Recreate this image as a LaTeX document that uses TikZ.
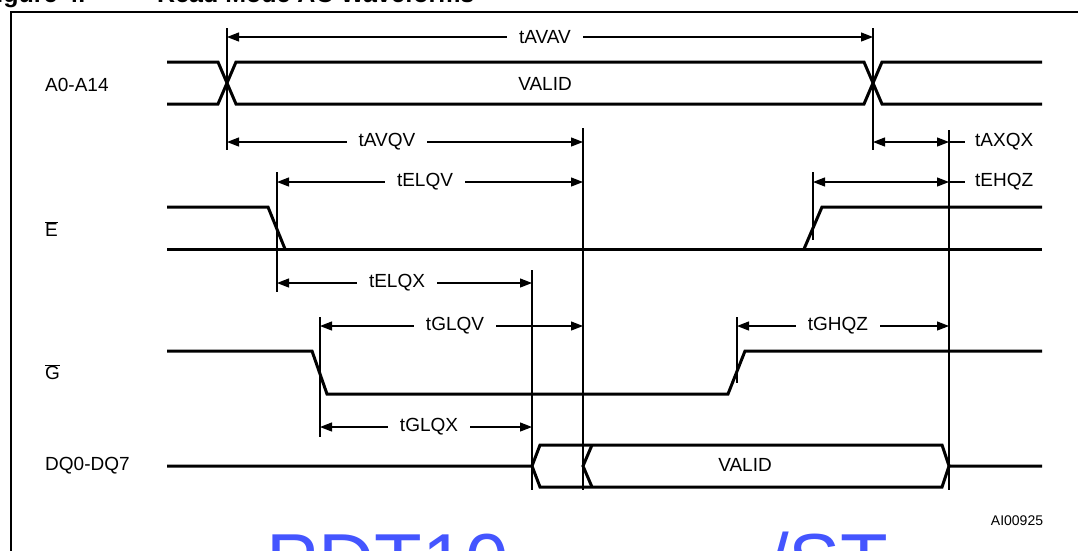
\documentclass[tikz,border=0pt]{standalone}
\usepackage{fontspec}
\setmainfont{Liberation Sans}
\usetikzlibrary{arrows.meta}
\definecolor{wmblue}{RGB}{68,85,255}
\begin{document}
\begin{tikzpicture}[x=1pt,y=-1pt,
  sig/.style={line width=3pt},
  refline/.style={line width=1.2pt},
  dim/.style={line width=1.2pt,{Triangle[length=12pt,width=9pt]}-{Triangle[length=12pt,width=9pt]}},
  lbl/.style={fill=white,inner xsep=12pt,inner ysep=1pt,font=\fontsize{19}{22}\selectfont},
  rlbl/.style={anchor=west,inner sep=0pt,font=\fontsize{19}{22}\selectfont},
  sname/.style={anchor=west,inner sep=0pt,font=\fontsize{19}{22}\selectfont}]
\useasboundingbox (0,0) rectangle (1078,550);
% frame and title
\draw[line width=2pt] (11,570) -- (11,11.5) -- (1100,11.5);
\node[anchor=base west,inner sep=0pt,font=\bfseries\fontsize{25}{30}\selectfont] (fig) at (-19,2) {Figure 4.};
\node[anchor=base west,inner sep=0pt,font=\bfseries\fontsize{25}{30}\selectfont] (title) at (157,2) {Read Mode AC Waveforms};
% signal names
\node[sname] (nA) at (45,85) {A0-A14};
\node[sname] (nE) at (45,229) {$\overline{\hbox{E}}$};
\node[sname] (nG) at (45,372) {$\overline{\hbox{G}}$};
\node[sname] (nDQ) at (45,466) {DQ0-DQ7};
% time references
\coordinate (tA1) at (227,0);
\coordinate (tA2) at (873,0);
\coordinate (tQV) at (583,0);
\coordinate (tQZ) at (949,0);
\coordinate (tE1) at (277,0);
\coordinate (tE2) at (813,0);
\coordinate (tQX) at (532,0);
\coordinate (tG1) at (320,0);
\coordinate (tG2) at (737,0);
% waveforms
\draw[sig] (167,62) -- (218,62) -- (236,104) -- (864,104) -- (882,62) -- (1042,62);
\draw[sig] (167,104) -- (218,104) -- (236,62) -- (864,62) -- (882,104) -- (1042,104);
\node[font=\fontsize{19}{22}\selectfont] (vA) at (545,84) {VALID};
\draw[sig] (167,207) -- (268,207) -- (285,249);
\draw[sig] (167,249) -- (1042,249);
\draw[sig] (804,249) -- (822,207) -- (1042,207);
\draw[sig] (167,351) -- (312,351) -- (327,394) -- (728,394) -- (745,351) -- (1042,351);
\draw[sig] (167,466) -- (532,466) -- (540,445) -- (942,445) -- (949,466) -- (1042,466);
\draw[sig] (532,466) -- (540,487) -- (942,487) -- (949,466);
\draw[sig] (592,445) -- (583,466) -- (592,487);
\node[font=\fontsize{19}{22}\selectfont] (vDQ) at (745,465) {VALID};
% vertical reference lines
\draw[refline] (tA1 |- 0,28) -- (tA1 |- 0,150);
\draw[refline] (tA2 |- 0,28) -- (tA2 |- 0,150);
\draw[refline] (tQV |- 0,128) -- (tQV |- 0,490);
\draw[refline] (tQZ |- 0,130) -- (tQZ |- 0,490);
\draw[refline] (tE1 |- 0,172) -- (tE1 |- 0,292);
\draw[refline] (tE2 |- 0,172) -- (tE2 |- 0,240);
\draw[refline] (tQX |- 0,270) -- (tQX |- 0,490);
\draw[refline] (tG1 |- 0,317) -- (tG1 |- 0,437);
\draw[refline] (tG2 |- 0,317) -- (tG2 |- 0,383);
% dimension arrows
\draw[dim] (tA1 |- 0,37) -- (tA2 |- 0,37);
\node[lbl] (lAVAV) at (545,37) {tAVAV};
\draw[dim] (tA1 |- 0,142) -- (tQV |- 0,142);
\node[lbl] (lAVQV) at (387,142) {tAVQV};
\draw[dim] (tA2 |- 0,142) -- (tQZ |- 0,142);
\draw[refline] (tQZ |- 0,142) -- (965,142);
\node[rlbl] (lAXQX) at (975,142) {tAXQX};
\draw[dim] (tE1 |- 0,182) -- (tQV |- 0,182);
\node[lbl] (lELQV) at (425,182) {tELQV};
\draw[dim] (tE2 |- 0,182) -- (tQZ |- 0,182);
\draw[refline] (tQZ |- 0,182) -- (965,182);
\node[rlbl] (lEHQZ) at (975,182) {tEHQZ};
\draw[dim] (tE1 |- 0,283) -- (tQX |- 0,283);
\node[lbl] (lELQX) at (397,283) {tELQX};
\draw[dim] (tG1 |- 0,326) -- (tQV |- 0,326);
\node[lbl] (lGLQV) at (455,326) {tGLQV};
\draw[dim] (tG2 |- 0,326) -- (tQZ |- 0,326);
\node[lbl] (lGHQZ) at (838,326) {tGHQZ};
\draw[dim] (tG1 |- 0,427) -- (tQX |- 0,427);
\node[lbl] (lGLQX) at (429,427) {tGLQX};
% id and watermark
\node[font=\fontsize{14}{16}\selectfont] (id) at (1017,521) {AI00925};
\node[anchor=base west,inner sep=0pt,text=wmblue,font=\fontsize{78}{80}\selectfont] (wm1) at (266,588) {PDT10};
\node[anchor=base west,inner sep=0pt,text=wmblue,font=\fontsize{78}{80}\selectfont] (wm2) at (767,588) {/ST};
\end{tikzpicture}
\end{document}
